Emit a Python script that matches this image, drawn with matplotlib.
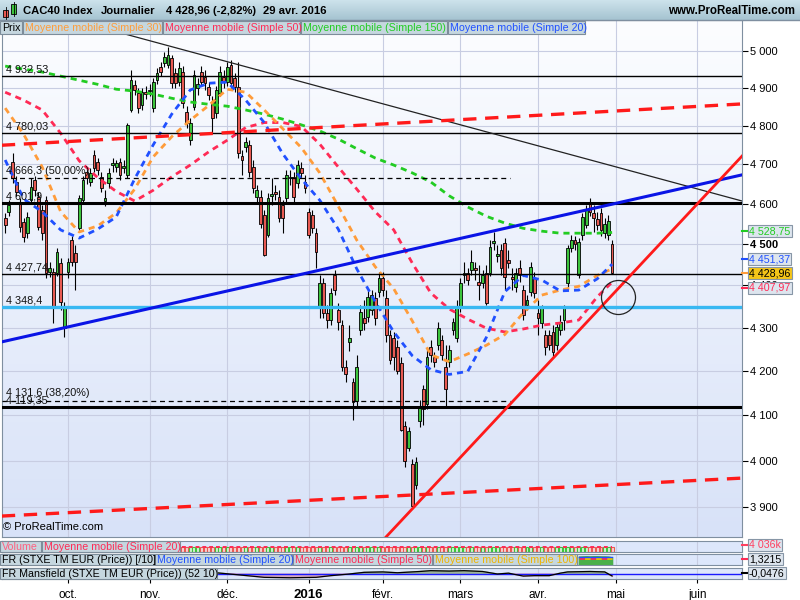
import numpy as np
import matplotlib
matplotlib.use('Agg')
import matplotlib.pyplot as plt
from matplotlib.colors import LinearSegmentedColormap
from matplotlib.patches import Rectangle
from matplotlib.ticker import NullLocator

plt.rcParams['font.family'] = ['Liberation Sans', 'DejaVu Sans']
plt.rcParams['font.size'] = 8

# --- daily candles, CAC40, early Sept 2015 -> 29 Apr 2016 (index 0..164) ---
opens = [4564, 4579, 4706, 4655, 4602, 4554, 4527, 4609, 4660, 4617,
         4584, 4609, 4432, 4432, 4430, 4454, 4300, 4432, 4510, 4479,
         4540, 4609, 4680, 4655, 4724, 4706, 4668, 4607, 4653, 4698,
         4693, 4706, 4690, 4673, 4841, 4907, 4886, 4854, 4888, 4891,
         4846, 4920, 4955, 4966, 4960, 4980, 4939, 4915, 4942, 4836,
         4762, 4849, 4899, 4942, 4928, 4902, 4862, 4833, 4886, 4928,
         4915, 4960, 4926, 4902, 4722, 4745, 4750, 4693, 4617, 4617,
         4572, 4522, 4620, 4630, 4617, 4597, 4614, 4665, 4668, 4653,
         4690, 4655, 4579, 4572, 4527, 4347, 4406, 4335, 4318, 4425,
         4342, 4306, 4210, 4267, 4174, 4131, 4295, 4323, 4325, 4342,
         4370, 4384, 4418, 4370, 4284, 4277, 4256, 4219, 4075, 4028,
         3992, 3948, 4086, 4158, 4124, 4256, 4233, 4260, 4272, 4210,
         4221, 4295, 4277, 4349, 4425, 4430, 4437, 4442, 4408, 4406,
         4430, 4430, 4503, 4471, 4486, 4503, 4461, 4420, 4396, 4442,
         4389, 4354, 4384, 4418, 4335, 4311, 4284, 4284, 4290, 4260,
         4295, 4318, 4406, 4491, 4510, 4425, 4522, 4547, 4604, 4577,
         4562, 4577, 4527, 4522, 4500]
highs = [4576, 4609, 4729, 4670, 4614, 4564, 4579, 4665, 4670, 4630,
         4597, 4620, 4456, 4442, 4491, 4466, 4361, 4466, 4520, 4498,
         4622, 4670, 4690, 4690, 4737, 4716, 4680, 4635, 4690, 4716,
         4711, 4716, 4711, 4808, 4947, 4920, 4899, 4899, 4904, 4910,
         4925, 4952, 4968, 4996, 5010, 4988, 4952, 4968, 4958, 4851,
         4820, 4947, 4925, 4958, 4947, 4915, 4878, 4904, 4958, 4947,
         4968, 4974, 4939, 4968, 4737, 4770, 4762, 4711, 4648, 4635,
         4584, 4627, 4665, 4648, 4635, 4609, 4685, 4685, 4680, 4711,
         4706, 4673, 4589, 4584, 4540, 4425, 4418, 4354, 4394, 4437,
         4359, 4318, 4226, 4306, 4185, 4237, 4354, 4366, 4389, 4389,
         4384, 4432, 4432, 4389, 4295, 4290, 4272, 4231, 4086, 4073,
         4003, 4007, 4135, 4169, 4249, 4272, 4244, 4314, 4284, 4260,
         4260, 4323, 4366, 4418, 4456, 4442, 4486, 4456, 4449, 4437,
         4449, 4510, 4530, 4498, 4500, 4515, 4486, 4442, 4442, 4461,
         4401, 4377, 4456, 4432, 4366, 4354, 4295, 4295, 4306, 4314,
         4330, 4354, 4498, 4522, 4520, 4515, 4577, 4597, 4614, 4597,
         4579, 4589, 4564, 4572, 4510]
lows = [4527, 4569, 4653, 4620, 4530, 4505, 4515, 4599, 4620, 4535,
        4510, 4418, 4420, 4311, 4423, 4342, 4279, 4418, 4447, 4389,
        4530, 4599, 4650, 4645, 4680, 4673, 4630, 4594, 4640, 4680,
        4680, 4660, 4678, 4665, 4836, 4880, 4833, 4841, 4870, 4878,
        4836, 4909, 4931, 4955, 4952, 4899, 4899, 4904, 4846, 4793,
        4750, 4841, 4880, 4904, 4894, 4867, 4780, 4820, 4878, 4899,
        4904, 4899, 4888, 4716, 4673, 4732, 4668, 4627, 4604, 4540,
        4471, 4518, 4597, 4609, 4554, 4527, 4604, 4648, 4604, 4640,
        4665, 4627, 4515, 4527, 4442, 4323, 4323, 4300, 4306, 4377,
        4295, 4199, 4174, 4245, 4090, 4117, 4284, 4295, 4314, 4330,
        4306, 4373, 4375, 4267, 4215, 4203, 4192, 4064, 3986, 4020,
        3896, 3938, 4073, 4079, 4113, 4221, 4208, 4249, 4226, 4117,
        4208, 4284, 4267, 4337, 4406, 4401, 4425, 4413, 4366, 4394,
        4354, 4423, 4486, 4456, 4425, 4389, 4442, 4389, 4384, 4408,
        4318, 4342, 4375, 4370, 4284, 4300, 4237, 4249, 4233, 4249,
        4284, 4295, 4394, 4481, 4486, 4418, 4510, 4540, 4569, 4530,
        4535, 4520, 4515, 4510, 4427]
closes = [4547, 4597, 4665, 4630, 4542, 4518, 4567, 4643, 4635, 4542,
          4527, 4430, 4442, 4349, 4481, 4361, 4347, 4456, 4456, 4456,
          4614, 4660, 4665, 4678, 4690, 4685, 4640, 4614, 4678, 4703,
          4703, 4673, 4695, 4801, 4920, 4894, 4846, 4888, 4883, 4894,
          4915, 4939, 4942, 4982, 4988, 4912, 4912, 4952, 4859, 4806,
          4806, 4934, 4910, 4915, 4912, 4880, 4820, 4894, 4942, 4915,
          4955, 4912, 4902, 4729, 4711, 4757, 4680, 4640, 4635, 4549,
          4473, 4614, 4625, 4625, 4564, 4564, 4673, 4668, 4617, 4698,
          4678, 4640, 4522, 4540, 4481, 4406, 4335, 4318, 4382, 4389,
          4314, 4210, 4192, 4277, 4129, 4208, 4337, 4311, 4373, 4377,
          4323, 4418, 4389, 4284, 4226, 4231, 4199, 4068, 3999, 4064,
          3902, 3996, 4117, 4113, 4233, 4237, 4221, 4300, 4237, 4158,
          4249, 4314, 4349, 4406, 4430, 4413, 4456, 4437, 4401, 4425,
          4359, 4493, 4508, 4476, 4442, 4420, 4454, 4415, 4430, 4425,
          4330, 4366, 4444, 4382, 4323, 4347, 4254, 4260, 4244, 4302,
          4314, 4347, 4491, 4510, 4500, 4505, 4567, 4584, 4579, 4564,
          4547, 4535, 4549, 4557, 4428.96]

# moving averages every 5 sessions
ma_idx = list(range(0, 161, 5)) + [164]
ma150 = [4958, 4950, 4942, 4931, 4920, 4909, 4896, 4891, 4883, 4872, 4862, 4856,
         4851, 4841, 4830, 4817, 4802, 4786, 4765, 4740, 4716, 4698, 4678, 4655,
         4620, 4592, 4569, 4552, 4539, 4532, 4527, 4527, 4527, 4528.75]
ma50 = [4888, 4867, 4841, 4780, 4709, 4666, 4631, 4607, 4634, 4668, 4698, 4732,
        4762, 4795, 4808, 4808, 4798, 4752, 4693, 4637, 4580, 4535, 4454, 4382,
        4344, 4320, 4299, 4290, 4297, 4306, 4311, 4318, 4373, 4407.97]
ma30 = [4846, 4777, 4693, 4580, 4530, 4545, 4577, 4637, 4719, 4771, 4814, 4853,
        4896, 4888, 4841, 4792, 4743, 4678, 4594, 4510, 4445, 4392, 4316, 4237,
        4221, 4239, 4259, 4284, 4335, 4377, 4389, 4398, 4424, 4440]
ma20 = [4711, 4612, 4580, 4535, 4515, 4537, 4567, 4663, 4750, 4830, 4894, 4912,
        4915, 4867, 4808, 4727, 4663, 4609, 4537, 4440, 4361, 4290, 4235, 4203,
        4192, 4199, 4277, 4385, 4424, 4413, 4387, 4389, 4416, 4451.37]

# horizontal levels
levels_thin = [4932.53, 4780.03, 4427.74]
levels_thick = [4601.9, 4119.35]
level_support = 4348.4
fibo_levels = [4666.3, 4131.6]
level_labels = [(4932.53, '4 932,53'), (4780.03, '4 780,03'), (4666.3, '4 666,3 (50,00%)'),
                (4601.9, '4 601,9'), (4427.74, '4 427,74'), (4348.4, '4 348,4'),
                (4131.6, '4 131,6 (38,20%)'), (4119.35, '4 119,35')]

# trendlines: (x0, p0, x1, p1)
trend_black = (25.6, 5064, 199.1, 4607)
trend_blue = (-0.9, 4267, 199.1, 4673)
trend_red = (102.9, 3837, 199.1, 4721)
channel_up = (-0.9, 4749, 199.1, 4857)
channel_low = (-0.9, 3881, 199.1, 3962)

price_ticks = [3900, 4000, 4100, 4200, 4300, 4400, 4500, 4600, 4700, 4800, 4900, 5000]
month_idx = [17, 39, 60, 82, 102, 123, 144, 165, 187]
month_lbl = ['oct.', 'nov.', 'déc.', '2016', 'févr.', 'mars', 'avr.', 'mai', 'juin']

vol_ma20 = 4036
fr_idx = list(range(155, 165))
fr_price = [1.326, 1.327, 1.328, 1.327, 1.328, 1.328, 1.327, 1.327, 1.326, 1.3215]
fr_ma = [1.319, 1.319, 1.319, 1.319, 1.319, 1.319, 1.319, 1.319, 1.319, 1.319]
mans_idx = [57, 63, 70, 77, 84, 88, 93, 97, 102, 106, 112, 115, 120, 124, 129,
            133, 136, 140, 143, 147, 150, 152, 158, 162, 164]
mans_val = [0.03, -0.02, -0.08, -0.09, -0.08, -0.04, 0.0, 0.04, 0.05, 0.03, 0.06,
            0.08, 0.07, 0.08, 0.06, 0.0, 0.02, -0.05, -0.04, -0.04, 0.02, 0.05,
            0.06, 0.05, -0.0476]

GREEN, RED = '#3cc43c', '#e85a52'
C150, C50, C30, C20 = '#22cc22', '#ff2a55', '#ff9c3a', '#2050ff'

W, H = 800, 600
XMIN, XMAX = -0.86, 199.1
fig = plt.figure(figsize=(8, 6), dpi=100)
fig.patch.set_facecolor('white')


def rect(x0, y0, x1, y1):
    return [x0 / W, 1 - y1 / H, (x1 - x0) / W, (y1 - y0) / H]


def gradient(r, top, bottom, z=0):
    bg = fig.add_axes(r, zorder=z)
    cmap = LinearSegmentedColormap.from_list('g', [bottom, top])
    bg.imshow(np.linspace(0, 1, 256).reshape(-1, 1), cmap=cmap, aspect='auto',
              origin='lower', extent=[0, 1, 0, 1])
    bg.axis('off')
    return bg


# ---------------- main price panel ----------------
r_main = rect(2, 20, 742, 537)
gradient(r_main, '#fcfdff', '#d8e2f8', z=0)
ax = fig.add_axes(r_main, zorder=1)
ax.patch.set_alpha(0)
ax.set_yscale('log')
ax.set_xlim(XMIN, XMAX)
ax.set_ylim(3837, 5084)

for p in price_ticks:
    ax.axhline(p, color='#c8cde2', lw=0.8, zorder=0.5)
for m in month_idx:
    ax.axvline(m, color='#c8cde2', lw=0.8, zorder=0.5)

o, hi, lo, c = map(np.array, (opens, highs, lows, closes))
idx = np.arange(len(c))
up = c >= o
ax.vlines(idx, lo, hi, color='black', lw=0.8, zorder=3)
ax.bar(idx, np.abs(c - o), bottom=np.minimum(o, c), width=0.75,
       color=np.where(up, GREEN, RED), edgecolor='black', lw=0.6, zorder=3.1)

for vals, col in [(ma150, C150), (ma50, C50), (ma30, C30), (ma20, C20)]:
    ax.plot(ma_idx, vals, color=col, lw=2, dashes=(2.2, 1.8), zorder=4)

for p in levels_thin:
    ax.axhline(p, color='black', lw=1, zorder=5)
for p in levels_thick:
    ax.axhline(p, color='black', lw=2.2, zorder=5)
ax.axhline(level_support, color='#38b8f2', lw=2.4, zorder=5)
for p in fibo_levels:
    ax.plot([XMIN, 136.4], [p, p], color='black', lw=0.9, dashes=(4, 3), zorder=5)

x0, p0, x1, p1 = trend_black
ax.plot([x0, x1], [p0, p1], color='#222222', lw=0.9, zorder=5)
x0, p0, x1, p1 = trend_blue
ax.plot([x0, x1], [p0, p1], color='#0a14e6', lw=2.2, zorder=5)
x0, p0, x1, p1 = trend_red
ax.plot([x0, x1], [p0, p1], color='#ff1a1a', lw=2.0, zorder=5)
for x0, p0, x1, p1 in (channel_up, channel_low):
    ax.plot([x0, x1], [p0, p1], color='#ff1a1a', lw=2.4, dashes=(4, 2.6), zorder=5)

ax.plot([165.6], [4372], marker='o', ms=24.5, mfc='none', mec='#222222', mew=0.9, zorder=6)

for p, s in level_labels:
    dy = 2.5 if p == 4131.6 else 1
    ax.annotate(s, (XMIN, p), xytext=(3, dy), textcoords='offset points',
                fontsize=7.8, color='#111111', va='bottom', ha='left', zorder=6)

ax.yaxis.tick_right()
ax.set_yticks(price_ticks, labels=[f'{p // 1000} {p % 1000:03d}' for p in price_ticks])
ax.yaxis.set_minor_locator(NullLocator())
ax.tick_params(axis='y', length=4, width=0.8, pad=2, labelsize=8, colors='black')
for t in ax.get_yticklabels():
    if t.get_text() == '4 500':
        t.set_fontweight('bold')
ax.tick_params(axis='x', bottom=False, labelbottom=False)
for s in ax.spines.values():
    s.set_color('#7f8fa0')

# ---------------- lower panels ----------------
def panel(y0, y1):
    r = rect(2, y0, 742, y1)
    a = fig.add_axes(r, zorder=1)
    a.set_facecolor('#dde7fb')
    a.set_xlim(XMIN, XMAX)
    for m in month_idx:
        a.axvline(m, color='#c8cde2', lw=0.8, zorder=0.5)
    a.set_yticks([])
    for s in a.spines.values():
        s.set_color('#7f8fa0')
    return a


# volume bars run past the panel scale; only their tops show, level with the MA
ax_v = panel(541, 552)
ax_v.bar(idx, np.full(len(idx), vol_ma20), width=0.8,
         color=np.where(up, '#d8f0d4', '#f6d6d6'),
         edgecolor=np.where(up, GREEN, RED), lw=0.8, zorder=2)
ax_v.plot([idx[0], idx[-1]], [vol_ma20 * 1.05] * 2, color='#ff2a55', lw=1.4,
          dashes=(2, 1.5), zorder=3)
ax_v.set_ylim(0, 2.3 * vol_ma20)
ax_v.set_xticks([])

ax_f = panel(554, 565)
ax_f.fill_between(fr_idx, 1.28, fr_price, color='#4ab04a', zorder=2)
ax_f.plot(fr_idx, fr_ma, color='#ff2a55', lw=2, dashes=(2, 2), zorder=3)
ax_f.plot(fr_idx, fr_ma, color='#f0c000', lw=2, linestyle=(2, (2, 2)), zorder=3)
ax_f.plot(fr_idx, [v + 0.003 for v in fr_ma], color='#2050ff', lw=1, zorder=3)
ax_f.set_ylim(1.28, 1.34)
ax_f.set_xticks([])

ax_m = panel(568, 579)
mv = np.array(mans_val)
ax_m.fill_between(mans_idx, 0, mv, where=mv >= 0, interpolate=True, color='#9db49a', zorder=2)
ax_m.fill_between(mans_idx, 0, mv, where=mv < 0, interpolate=True, color='#d9a9c2', zorder=2)
ax_m.axhline(0, color='#1a1aff', lw=1, zorder=3)
ax_m.plot(mans_idx, mans_val, color='black', lw=0.9, zorder=4)
ax_m.set_ylim(-0.12, 0.144)
ax_m.set_xticks(month_idx, labels=month_lbl)
ax_m.tick_params(axis='x', length=3, width=0.8, pad=4, labelsize=8.5, colors='black')
for t in ax_m.get_xticklabels():
    if t.get_text() == '2016':
        t.set_fontweight('bold')
        t.set_fontsize(9.5)

# ---------------- overlay (header, legends, value tags) ----------------
gradient(rect(0, 0, 800, 20), '#cde3ec', '#a5c3d0', z=2)
ov = fig.add_axes([0, 0, 1, 1], zorder=10)
ov.set_xlim(0, W)
ov.set_ylim(H, 0)
ov.axis('off')
ov.patch.set_alpha(0)
ov.plot([0, 800], [20, 20], color='#7f8fa0', lw=1)

# header icon
ov.add_patch(Rectangle((3, 10), 5, 7, fc=RED, ec='black', lw=0.6))
ov.plot([5.5, 5.5], [7, 19], color='black', lw=0.6)
ov.add_patch(Rectangle((11, 4), 5, 10, fc=GREEN, ec='black', lw=0.6))
ov.plot([13.5, 13.5], [2, 16], color='black', lw=0.6)
for x, s in [(23, 'CAC40 Index'), (101, 'Journalier'), (166, '4 428,96 (-2,82%)'), (263, '29 avr. 2016')]:
    ov.text(x, 11, s, fontsize=8.1, fontweight='bold', va='center', ha='left')
ov.text(795, 11, 'www.ProRealTime.com', fontsize=8.3, fontweight='bold', va='center', ha='right')


def legend_box(x0, x1, y0, y1, s, color):
    ov.add_patch(Rectangle((x0, y0), x1 - x0, y1 - y0, fc='#c5d7df', ec='#7d8d9a', lw=0.8))
    ov.text(x0 + 2, (y0 + y1) / 2 + 0.5, s, color=color, fontsize=7.7, va='center', ha='left')


legend_box(0, 22, 21, 34, 'Prix', 'black')
legend_box(23, 162, 21, 34, 'Moyenne mobile (Simple 30)', C30)
legend_box(163, 300, 21, 34, 'Moyenne mobile (Simple 50)', C50)
legend_box(301, 447, 21, 34, 'Moyenne mobile (Simple 150)', C150)
legend_box(448, 585, 21, 34, 'Moyenne mobile (Simple 20)', C20)

legend_box(0, 41, 541, 552, 'Volume', '#ff6080')
legend_box(42, 180, 541, 552, 'Moyenne mobile (Simple 20)', C50)
legend_box(0, 154, 554, 565, 'FR (STXE TM EUR (Price)) [/10]', 'black')
legend_box(155, 292, 554, 565, 'Moyenne mobile (Simple 20)', C20)
legend_box(293, 432, 554, 565, 'Moyenne mobile (Simple 50)', C50)
legend_box(433, 577, 554, 565, 'Moyenne mobile (Simple 100)', '#f0b400')
legend_box(0, 217, 568, 579, 'FR Mansfield (STXE TM EUR (Price)) (52 10)', 'black')

ov.text(3, 527, '© ProRealTime.com', fontsize=8, va='center', ha='left')


def tag(y, s, color, face='#dde5ee', tick=None):
    ov.text(749, y, s, color=color, fontsize=7.7, va='center', ha='left',
            bbox=dict(boxstyle='square,pad=0.12', fc=face, ec='#8796a6', lw=0.8))
    ov.plot([742, 747], [y, y], color=tick or color, lw=1.5)


tag(231, '4 528,75', C150)
tag(259, '4 451,37', C20)
tag(273, '4 428,96', 'black', face='#f5c518', tick=C30)
tag(288, '4 407,97', C50)
tag(545, '4 036k', '#ff4060')
tag(559, '1,3215', 'black', tick='#ff2a55')
tag(573, '-0,0476', 'black')

fig.savefig('out.png', dpi=100)
